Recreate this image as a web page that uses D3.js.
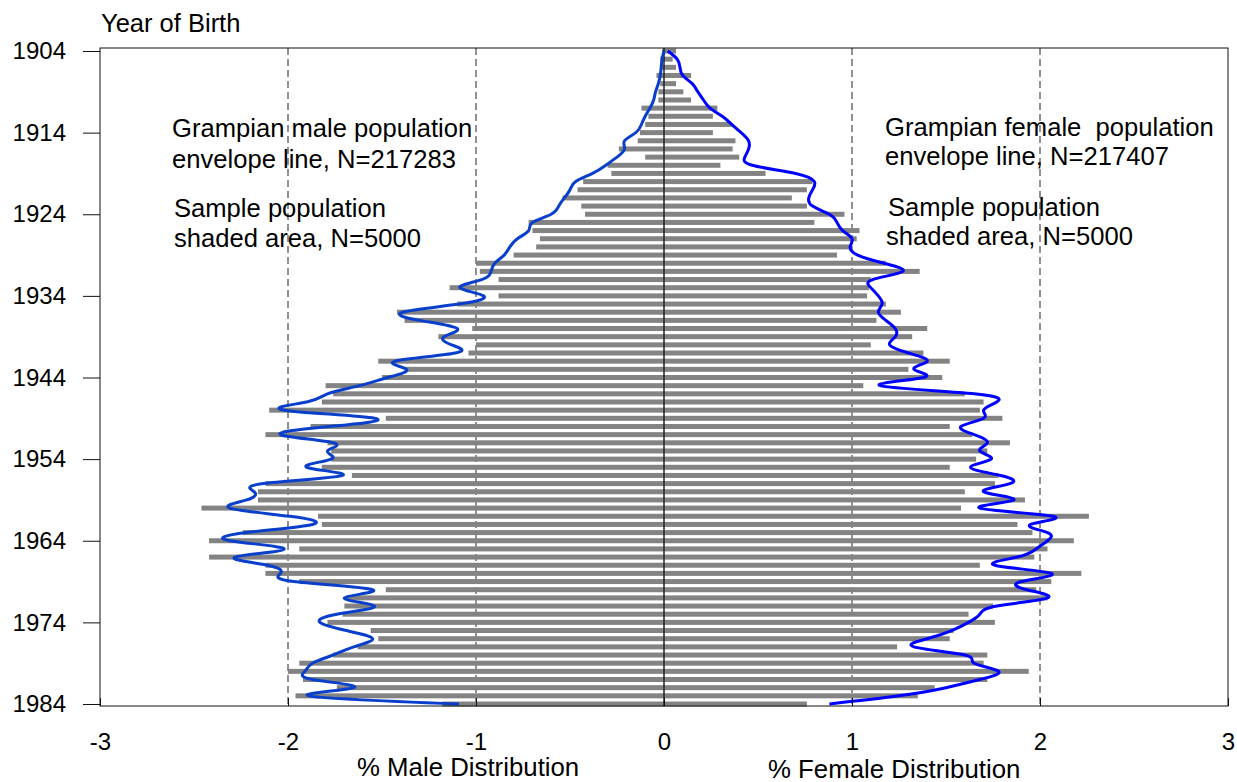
<!DOCTYPE html>
<html>
<head>
<meta charset="utf-8">
<script src="https://cdn.jsdelivr.net/npm/d3@7"></script>
<style>
  body { margin: 0; background: #fff; }
  svg { display: block; font-family: "Liberation Sans", Arial, Helvetica, sans-serif; }
</style>
</head>
<body>
<svg id="chart" width="1237" height="782"></svg>
<script>
// birth years, one bar per year
const years = [
  1904, 1905, 1906, 1907, 1908, 1909, 1910, 1911, 1912, 1913,
  1914, 1915, 1916, 1917, 1918, 1919, 1920, 1921, 1922, 1923,
  1924, 1925, 1926, 1927, 1928, 1929, 1930, 1931, 1932, 1933,
  1934, 1935, 1936, 1937, 1938, 1939, 1940, 1941, 1942, 1943,
  1944, 1945, 1946, 1947, 1948, 1949, 1950, 1951, 1952, 1953,
  1954, 1955, 1956, 1957, 1958, 1959, 1960, 1961, 1962, 1963,
  1964, 1965, 1966, 1967, 1968, 1969, 1970, 1971, 1972, 1973,
  1974, 1975, 1976, 1977, 1978, 1979, 1980, 1981, 1982, 1983,
  1984
];

// % of sample (N=5000), shaded bars
const maleSample = [
  0.01, 0.02, 0.02, 0.04, 0.02, 0.03, 0.03, 0.12, 0.083, 0.10,
  0.128, 0.14, 0.24, 0.10, 0.30, 0.28, 0.43, 0.46, 0.54, 0.44,
  0.42, 0.72, 0.70, 0.66, 0.68, 0.80, 1.00, 0.98, 0.88, 1.14,
  0.88, 1.10, 1.42, 1.38, 1.02, 1.20, 1.00, 1.04, 1.52, 1.38,
  1.50, 1.80, 1.76, 1.82, 2.10, 1.48, 1.88, 2.12, 1.79, 1.77,
  1.77, 1.82, 1.66, 2.12, 2.16, 2.16, 2.46, 1.84, 1.82, 2.24,
  2.42, 1.94, 2.42, 2.12, 2.12, 1.94, 1.48, 1.69, 1.70, 1.71,
  1.79, 1.56, 1.52, 1.63, 1.76, 1.94, 2.00, 1.92, 1.74, 1.96,
  1.18
];
const femaleSample = [
  0.064, 0.046, 0.064, 0.144, 0.064, 0.103, 0.144, 0.284, 0.26, 0.36,
  0.26, 0.38, 0.365, 0.40, 0.30, 0.54, 0.79, 0.76, 0.68, 0.76,
  0.96, 0.80, 1.04, 1.025, 0.986, 0.92, 1.18, 1.36, 1.10, 1.09,
  1.08, 1.18, 1.26, 1.13, 1.40, 1.32, 1.10, 1.38, 1.52, 1.30,
  1.48, 1.06, 1.60, 1.70, 1.68, 1.80, 1.52, 1.64, 1.84, 1.72,
  1.66, 1.52, 1.78, 1.76, 1.60, 1.92, 1.58, 2.26, 1.88, 1.96,
  2.18, 2.04, 1.97, 1.68, 2.22, 2.06, 1.98, 2.04, 1.75, 1.62,
  1.76, 1.54, 1.52, 1.24, 1.72, 1.70, 1.94, 1.72, 1.44, 1.35,
  0.76
];

// % of Grampian population, envelope lines
const maleEnvelope = [
  0.00, 0.01, 0.015, 0.02, 0.03, 0.045, 0.055, 0.075, 0.10, 0.12,
  0.15, 0.21, 0.21, 0.25, 0.31, 0.38, 0.47, 0.50, 0.53, 0.56,
  0.60, 0.70, 0.72, 0.78, 0.82, 0.85, 0.90, 0.92, 0.97, 1.085,
  0.96, 1.09, 1.39, 1.30, 1.10, 1.17, 1.13, 1.11, 1.43, 1.37,
  1.47, 1.62, 1.79, 1.90, 2.02, 1.54, 1.78, 2.04, 1.76, 1.79,
  1.77, 1.90, 1.71, 2.13, 2.18, 2.22, 2.31, 1.99, 1.87, 2.22,
  2.31, 2.02, 2.28, 2.11, 2.04, 1.97, 1.55, 1.70, 1.54, 1.74,
  1.83, 1.69, 1.55, 1.65, 1.76, 1.87, 1.91, 1.87, 1.65, 1.89,
  1.09
];
const femaleEnvelope = [
  0.02, 0.07, 0.085, 0.10, 0.15, 0.18, 0.21, 0.245, 0.31, 0.36,
  0.41, 0.45, 0.45, 0.43, 0.47, 0.70, 0.80, 0.79, 0.77, 0.79,
  0.88, 0.92, 0.95, 1.00, 0.99, 1.03, 1.17, 1.27, 1.11, 1.10,
  1.14, 1.16, 1.14, 1.18, 1.23, 1.23, 1.20, 1.30, 1.40, 1.33,
  1.38, 1.15, 1.65, 1.77, 1.70, 1.70, 1.58, 1.65, 1.72, 1.68,
  1.74, 1.63, 1.79, 1.84, 1.70, 1.86, 1.68, 2.07, 1.95, 2.04,
  2.04, 1.98, 1.88, 1.76, 2.06, 1.90, 1.93, 2.04, 1.77, 1.68,
  1.62, 1.53, 1.40, 1.33, 1.60, 1.65, 1.78, 1.68, 1.50, 1.25,
  0.88
];

const yearTicks = [1904, 1914, 1924, 1934, 1944, 1954, 1964, 1974, 1984];
const pctTicks = [-3, -2, -1, 0, 1, 2, 3];
const gridPcts = [-2, -1, 1, 2];

const svg = d3.select("#chart");
const plotLeft = 100, plotRight = 1228, plotTop = 48, plotBottom = 706;

const x = d3.scaleLinear().domain([-3, 3]).range([plotLeft, plotRight]);
const y = d3.scaleLinear().domain([1904, 1984]).range([51, 704]);
const barH = 5;

// dashed reference lines (under the bars)
svg.append("g")
  .selectAll("line")
  .data(gridPcts)
  .join("line")
  .attr("x1", (d) => x(d))
  .attr("x2", (d) => x(d))
  .attr("y1", plotTop)
  .attr("y2", plotBottom)
  .attr("stroke", "#222")
  .attr("stroke-width", 1)
  .attr("stroke-dasharray", "7,4");

// sample bars
const rows = years.map((yr, i) => ({ year: yr, male: maleSample[i], female: femaleSample[i] }));
const bars = svg.append("g").attr("fill", "#838383");
bars.selectAll("rect.m")
  .data(rows)
  .join("rect")
  .attr("class", "m")
  .attr("x", (d) => x(-d.male))
  .attr("width", (d) => x(0) - x(-d.male))
  .attr("y", (d) => y(d.year) - barH / 2)
  .attr("height", barH);
bars.selectAll("rect.f")
  .data(rows)
  .join("rect")
  .attr("class", "f")
  .attr("x", x(0))
  .attr("width", (d) => x(d.female) - x(0))
  .attr("y", (d) => y(d.year) - barH / 2)
  .attr("height", barH);

// zero line
svg.append("line")
  .attr("x1", x(0)).attr("x2", x(0))
  .attr("y1", plotTop).attr("y2", plotBottom)
  .attr("stroke", "#222")
  .attr("stroke-width", 1.5);

// envelope lines
const envLine = d3.line()
  .x((d) => x(d.v))
  .y((d) => y(d.year))
  .curve(d3.curveNatural);

svg.append("path")
  .datum(years.map((yr, i) => ({ year: yr, v: -maleEnvelope[i] })))
  .attr("d", envLine)
  .attr("fill", "none")
  .attr("stroke", "#0a3fcc")
  .attr("stroke-width", 3);

svg.append("path")
  .datum(years.map((yr, i) => ({ year: yr, v: femaleEnvelope[i] })))
  .attr("d", envLine)
  .attr("fill", "none")
  .attr("stroke", "#0000ff")
  .attr("stroke-width", 3);

// frame
svg.append("rect")
  .attr("x", plotLeft).attr("y", plotTop)
  .attr("width", plotRight - plotLeft).attr("height", plotBottom - plotTop)
  .attr("fill", "none")
  .attr("stroke", "#111")
  .attr("stroke-width", 1);

// axes
const yAxis = svg.append("g")
  .attr("transform", `translate(${plotLeft},0)`)
  .call(d3.axisLeft(y).tickValues(yearTicks).tickSize(17).tickPadding(17).tickFormat((d) => d));
yAxis.select(".domain").remove();
yAxis.selectAll("text").attr("font-size", 24).attr("font-family", null).attr("fill", "#000");
yAxis.selectAll("line").attr("stroke", "#111");

const xAxis = svg.append("g")
  .attr("transform", `translate(0,${plotBottom})`)
  .call(d3.axisBottom(x).tickValues(pctTicks).tickSize(-8).tickPadding(27).tickFormat((d) => String(d)));
xAxis.select(".domain").remove();
xAxis.selectAll("text").attr("font-size", 24).attr("font-family", null).attr("fill", "#000");
xAxis.selectAll("line").attr("stroke", "#111");

// titles
svg.append("text").attr("x", 101).attr("y", 32).attr("font-size", 25.5).text("Year of Birth");
svg.append("text").attr("x", 357).attr("y", 776).attr("font-size", 25.8).text("% Male Distribution");
svg.append("text").attr("x", 768).attr("y", 778).attr("font-size", 25.8).text("% Female Distribution");

// annotations
const notes = [
  { x: 172, y: 137, t: "Grampian male population" },
  { x: 172, y: 168, t: "envelope line, N=217283" },
  { x: 174, y: 217, t: "Sample population" },
  { x: 174, y: 247, t: "shaded area, N=5000" },
  { x: 885, y: 136, t: "Grampian female  population" },
  { x: 885, y: 165, t: "envelope line, N=217407" },
  { x: 888, y: 216, t: "Sample population" },
  { x: 886, y: 245, t: "shaded area, N=5000" },
];
svg.append("g")
  .selectAll("text")
  .data(notes)
  .join("text")
  .attr("x", (d) => d.x)
  .attr("y", (d) => d.y)
  .attr("font-size", 25.6)
  .style("white-space", "pre")
  .text((d) => d.t);
</script>
</body>
</html>
